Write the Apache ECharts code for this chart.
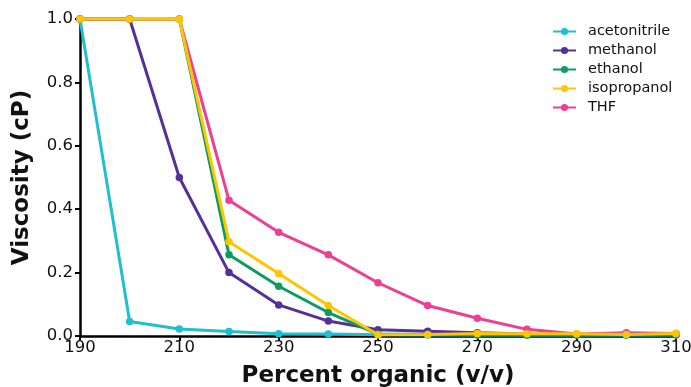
<!DOCTYPE html>
<html>
<head>
<meta charset="utf-8">
<script src="https://cdn.jsdelivr.net/npm/echarts@6/dist/echarts.min.js"></script>
<style>html,body{margin:0;padding:0;background:#fff;}#c{width:691px;height:387px;}</style>
</head>
<body>
<div id="c"></div>
<script>
const xValues = [190, 200, 210, 220, 230, 240, 250, 260, 270, 280, 290, 300, 310];
const acetonitrile = [1.0, 0.046, 0.022, 0.014, 0.007, 0.006, 0.004, 0.003, 0.003, 0.003, 0.003, 0.003, 0.003];
const methanol = [1.0, 1.0, 0.5, 0.2, 0.098, 0.047, 0.02, 0.015, 0.01, 0.006, 0.005, 0.005, 0.005];
const ethanol = [1.0, 1.0, 1.0, 0.256, 0.157, 0.074, 0.006, 0.005, 0.004, 0.003, 0.003, 0.003, 0.004];
const isopropanol = [1.0, 1.0, 1.0, 0.297, 0.197, 0.096, 0.004, 0.005, 0.008, 0.007, 0.007, 0.005, 0.008];
const thf = [1.0, 1.0, 1.0, 0.428, 0.327, 0.256, 0.168, 0.096, 0.056, 0.021, 0.006, 0.01, 0.008];
const seriesNames = ['acetonitrile', 'methanol', 'ethanol', 'isopropanol', 'THF'];
const seriesData = [acetonitrile, methanol, ethanol, isopropanol, thf];
const colors = ['#1fbfd0', '#55309a', '#0b9c62', '#fdc600', '#ed3f93'];
const zOrder = [2, 3, 4, 6, 5];

const chart = echarts.init(document.getElementById('c'));
const font = 'DejaVu Sans';
chart.setOption({
  animation: false,
  color: colors,
  grid: { left: 80, right: 15, top: 19, bottom: 51, containLabel: false, outerBoundsMode: 'none' },
  legend: {
    orient: 'vertical',
    left: 547,
    top: 19,
    itemWidth: 23,
    itemHeight: 9,
    itemGap: 4,
    textStyle: { fontFamily: font, fontSize: 14.5, lineHeight: 14, color: '#111', padding: [0, 0, 0, 7] },
    data: seriesNames
  },
  xAxis: {
    type: 'value',
    min: 190, max: 310, interval: 20,
    name: 'Percent organic (v/v)',
    nameLocation: 'middle',
    nameGap: 29,
    nameTextStyle: { fontFamily: font, fontSize: 23, fontWeight: 'bold', color: '#111' },
    axisLine: { lineStyle: { color: '#000', width: 2.5 } },
    axisTick: { show: true, length: 5, lineStyle: { color: '#000', width: 2 } },
    axisLabel: { fontFamily: font, fontSize: 16.5, color: '#111', margin: 3 },
    splitLine: { show: false }
  },
  yAxis: {
    type: 'value',
    min: 0, max: 1, interval: 0.2,
    name: 'Viscosity (cP)',
    nameLocation: 'middle',
    nameGap: 46,
    nameTextStyle: { fontFamily: font, fontSize: 23, fontWeight: 'bold', color: '#111' },
    axisLine: { show: true, lineStyle: { color: '#000', width: 2.5 } },
    axisTick: { show: true, length: 5, lineStyle: { color: '#000', width: 2 } },
    axisLabel: { fontFamily: font, fontSize: 16.5, color: '#111', margin: 7, formatter: v => v.toFixed(1) },
    splitLine: { show: false }
  },
  series: seriesNames.map((n, i) => ({
    name: n,
    type: 'line',
    z: zOrder[i],
    data: xValues.map((x, j) => [x, seriesData[i][j]]),
    symbol: 'circle',
    symbolSize: 7.5,
    lineStyle: { width: 3, color: colors[i] },
    itemStyle: { color: colors[i] }
  }))
});
</script>
</body>
</html>
